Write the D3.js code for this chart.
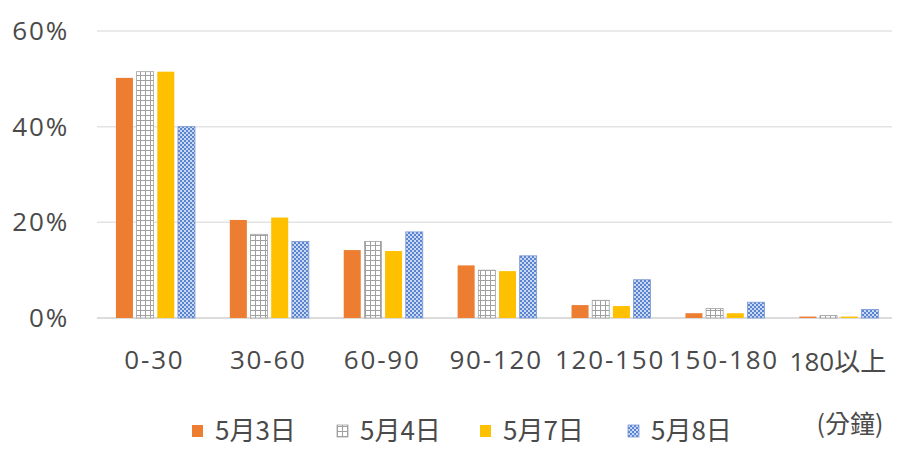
<!DOCTYPE html>
<html><head><meta charset="utf-8">
<script src="https://cdn.jsdelivr.net/npm/d3@7/dist/d3.min.js"></script>
<style>body{margin:0;background:#fff}svg{display:block}</style>
</head><body>
<svg id="c" width="897" height="462"></svg>
<script>
const categories = ["0-30","30-60","60-90","90-120","120-150","150-180","180以上"];
const seriesNames = ["5月3日","5月4日","5月7日","5月8日"];
const may3 = [50.2, 20.5, 14.2, 11.0, 2.7, 1.0, 0.3];
const may4 = [51.5, 17.5, 16.0, 10.0, 3.7, 2.0, 0.5];
const may7 = [51.5, 21.0, 14.0, 9.8, 2.5, 1.0, 0.3];
const may8 = [40.0, 16.0, 18.0, 13.0, 8.0, 3.3, 1.8];
const yTicks = [0, 20, 40, 60];
const unitLabel = "(分鐘)";

const series = [may3, may4, may7, may8];
const svg = d3.select("#c");
const font = "'Open Sans','Noto Sans CJK TC',sans-serif";
const cjk = "'Noto Sans CJK TC','Open Sans',sans-serif";
const textColor = "#4a4a4a";
const defs = svg.append("defs");
// grid pattern (5月4日)
const pg = defs.append("pattern").attr("id","pGrid").attr("patternUnits","userSpaceOnUse").attr("width",5).attr("height",5);
pg.append("rect").attr("width",5).attr("height",5).attr("fill","#fff");
pg.append("path").attr("d","M0,0.5H5M0.5,0V5").attr("stroke","#a0a0a0").attr("stroke-width",1);
// checker pattern (5月8日)
const pb = defs.append("pattern").attr("id","pBlue").attr("patternUnits","userSpaceOnUse").attr("width",4).attr("height",4);
pb.append("rect").attr("width",4).attr("height",4).attr("fill","#cbd8f2");
pb.append("rect").attr("width",2).attr("height",2).attr("fill","#5a84d0");
pb.append("rect").attr("x",2).attr("y",2).attr("width",2).attr("height",2).attr("fill","#5a84d0");

const fills = ["#ED7D31","url(#pGrid)","#FFC000","url(#pBlue)"];
const strokes = [null,"#a0a0a0",null,"#7b98d4"];

const x = d3.scaleBand().domain(categories).range([98.5, 895.8]).paddingInner(0.306).paddingOuter(0.153);
const xs = d3.scaleBand().domain(d3.range(4)).range([0, x.bandwidth()]).paddingInner(0.177);
const y = d3.scaleLinear().domain([0, 60]).range([318, 31]);

// gridlines
svg.append("g").selectAll("line").data(yTicks).join("line")
  .attr("x1", 97).attr("x2", 892)
  .attr("y1", d => y(d)).attr("y2", d => y(d))
  .attr("stroke", d => d === 0 ? "#d0d0d0" : "#e3e3e3").attr("stroke-width", 1.5);

// y labels
svg.append("g").selectAll("text").data(yTicks).join("text")
  .attr("x", 69).attr("y", d => y(d)).attr("dy", "0.34em")
  .attr("text-anchor", "end").attr("font-family", font).attr("font-size", 26)
  .attr("letter-spacing", 1.8)
  .attr("fill", textColor).text(d => d + "%");

// bars
series.forEach((vals, si) => {
  svg.append("g").selectAll("rect").data(vals).join("rect")
    .attr("x", (d, i) => x(categories[i]) + xs(si))
    .attr("width", xs.bandwidth())
    .attr("y", d => y(d))
    .attr("height", d => y(0) - y(d))
    .attr("fill", fills[si])
    .attr("stroke", strokes[si] || "none")
    .attr("stroke-width", strokes[si] ? 0.8 : 0);
});

// x labels
svg.append("g").selectAll("text").data(categories).join("text")
  .attr("x", d => x(d) + x.bandwidth() / 2 - 1)
  .attr("y", (d, i) => i === 6 ? 371 : 369)
  .attr("text-anchor", "middle").attr("font-family", font).attr("font-size", 26)
  .attr("letter-spacing", (d, i) => i === 6 ? 0 : 1.8)
  .attr("fill", textColor).text(d => d);

svg.append("text").attr("x", 850).attr("y", 433).attr("text-anchor", "middle")
  .attr("font-family", cjk).attr("font-size", 25).attr("fill", textColor).text(unitLabel);

// legend
const legX = [192, 337, 480, 628];
const lg = svg.append("g").selectAll("g").data(seriesNames).join("g")
  .attr("transform", (d, i) => `translate(${legX[i]},431)`);
lg.append("rect").attr("x", 0).attr("y", -6).attr("width", 11).attr("height", 12)
  .attr("fill", (d, i) => fills[i]).attr("stroke", (d, i) => strokes[i] || "none").attr("stroke-width", 0.8);
lg.append("text").attr("x", 23).attr("y", 0).attr("dy", "0.36em")
  .attr("font-family", cjk).attr("font-size", 26).attr("fill", textColor).text(d => d);
</script>
</body></html>
